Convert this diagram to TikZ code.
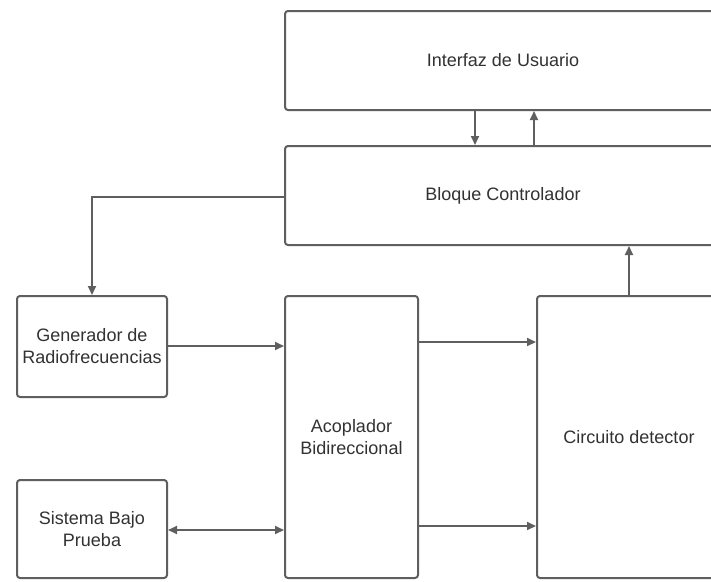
\documentclass[tikz,border=0pt]{standalone}
\usepackage{fontspec}
\setmainfont{Liberation Sans}
\usetikzlibrary{arrows.meta,calc}
\definecolor{linegray}{RGB}{95,95,95}
\definecolor{textgray}{RGB}{50,50,50}
\tikzset{
  blockbox/.style={draw=linegray, line width=2pt, rounded corners=3pt, fill=white,
    align=center, text=textgray, inner sep=0pt,
    font=\fontsize{18}{22}\selectfont},
  arr/.style={draw=linegray, line width=1.8pt, -{Triangle[length=9pt,width=8pt]}},
  biarr/.style={draw=linegray, line width=1.8pt, {Triangle[length=9pt,width=8pt]}-{Triangle[length=9pt,width=8pt]}}
}
\begin{document}
\begin{tikzpicture}[x=1pt,y=-1pt]
\useasboundingbox (0,0) rectangle (711,581);
\clip (0,0) rectangle (711,581);
\fill[white] (0,0) rectangle (711,581);
\node[blockbox, minimum width=436pt, minimum height=99pt] (ui) at (503,60.5) {Interfaz de Usuario};
\node[blockbox, minimum width=436pt, minimum height=99pt] (ctrl) at (503,195.5) {Bloque Controlador};
\node[blockbox, minimum width=150pt, minimum height=101pt] (gen) at (92,346.5) {Generador de\\Radiofrecuencias};
\node[blockbox, minimum width=133pt, minimum height=282pt] (acop) at (351.5,437) {Acoplador\\Bidireccional};
\node[blockbox, minimum width=184pt, minimum height=282pt] (det) at (629,437) {Circuito detector};
\node[blockbox, minimum width=150pt, minimum height=98pt] (sis) at (92,529) {Sistema Bajo\\Prueba};
\coordinate (xdown) at (475,0);
\coordinate (xup) at (534,0);
\coordinate (ctrlout) at (0,197);
\coordinate (ygen) at (0,346);
\coordinate (yup) at (0,342);
\coordinate (ylow) at (0,526);
\coordinate (ysis) at (0,530);
\draw[arr] (ui.south -| xdown) -- (ctrl.north -| xdown);
\draw[arr] (ctrl.north -| xup) -- (ui.south -| xup);
\draw[arr] (ctrl.west |- ctrlout) -| (gen.north);
\draw[arr] (gen.east |- ygen) -- (acop.west |- ygen);
\draw[arr] (acop.east |- yup) -- (det.west |- yup);
\draw[arr] (acop.east |- ylow) -- (det.west |- ylow);
\draw[arr] (det.north) -- (det.north |- ctrl.south);
\draw[biarr] (sis.east |- ysis) -- (acop.west |- ysis);
\end{tikzpicture}
\end{document}
